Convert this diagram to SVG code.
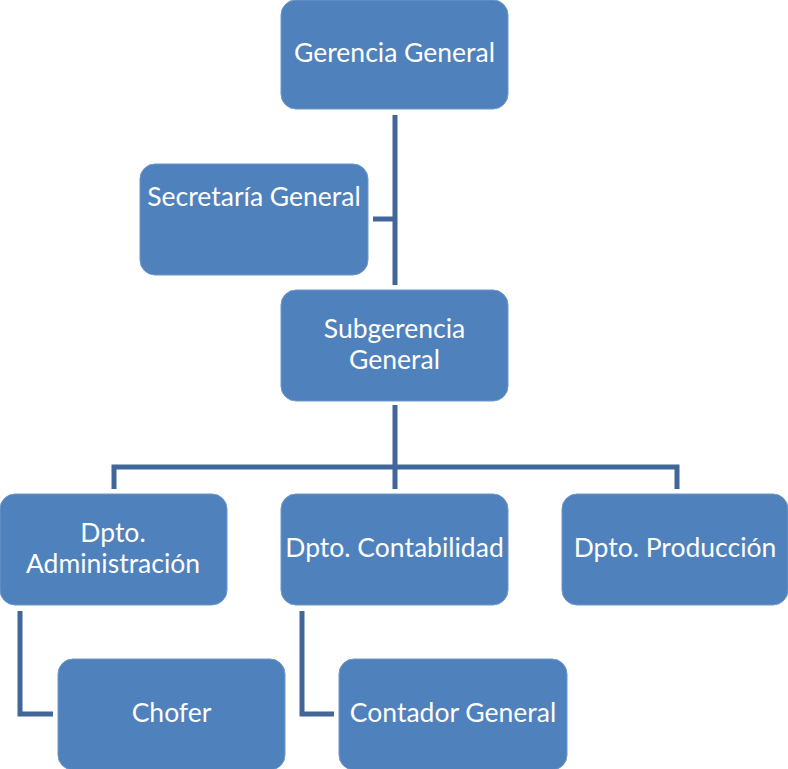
<svg xmlns="http://www.w3.org/2000/svg" width="788" height="769" viewBox="0 0 788 769">
<style>
.box{fill:#4F81BD;stroke:#6f97c8;stroke-width:1}
.t{font-family:Lato,"Open Sans",sans-serif;font-size:26.5px;fill:#fff;text-anchor:middle}
.c{fill:none;stroke:#41679A;stroke-width:5;stroke-linejoin:miter}
</style>
<rect width="788" height="769" fill="#fff"/>
<g id="connectors">
<path class="c" d="M395 115V285"/>
<path class="c" d="M373 219H395"/>
<path class="c" d="M395 405V467M114 489V467H677V489M395 467V489"/>
<path class="c" d="M20 611V714H53"/>
<path class="c" d="M302 611V714H334"/>
</g>
<g id="gerencia"><rect class="box" x="281" y="0" width="227" height="109" rx="15"/><text class="t" x="394.5" y="62">Gerencia General</text></g>
<g id="secretaria"><rect class="box" x="140" y="164" width="228" height="111" rx="15"/><text class="t" x="254" y="206">Secretaría General</text></g>
<g id="subgerencia"><rect class="box" x="281" y="290" width="227" height="111" rx="15"/><text class="t" x="394.5" y="338">Subgerencia</text><text class="t" x="394.5" y="369">General</text></g>
<g id="administracion"><rect class="box" x="0" y="494" width="227" height="111" rx="15"/><text class="t" x="113" y="542">Dpto.</text><text class="t" x="113" y="573">Administración</text></g>
<g id="contabilidad"><rect class="box" x="281" y="494" width="227" height="111" rx="15"/><text class="t" x="394.5" y="557">Dpto. Contabilidad</text></g>
<g id="produccion"><rect class="box" x="562" y="494" width="226" height="111" rx="15"/><text class="t" x="675" y="557">Dpto. Producción</text></g>
<g id="chofer"><rect class="box" x="58" y="659" width="227" height="111" rx="15"/><text class="t" x="171.5" y="722">Chofer</text></g>
<g id="contador"><rect class="box" x="339" y="659" width="228" height="111" rx="15"/><text class="t" x="453" y="722">Contador General</text></g>
</svg>
